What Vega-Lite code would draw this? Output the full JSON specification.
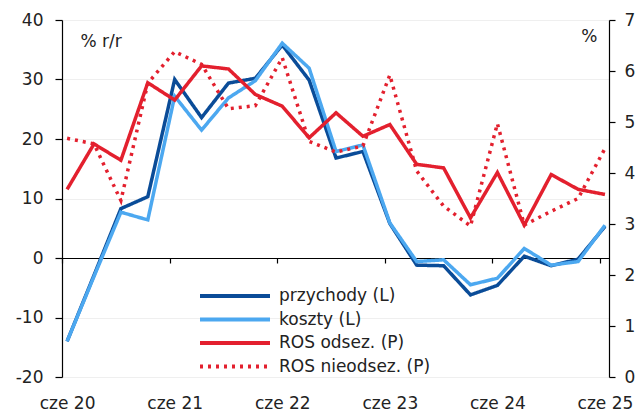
{
  "$schema": "https://vega.github.io/schema/vega-lite/v6.json",
  "width": 547,
  "height": 357,
  "autosize": {"type": "none"},
  "padding": {"left": 62, "top": 20, "right": 32, "bottom": 35},
  "background": "white",
  "config": {
    "font": "DejaVu Sans",
    "view": {"stroke": null},
    "axis": {
      "labelFont": "DejaVu Sans",
      "labelFontSize": 17,
      "labelColor": "#222222",
      "titleFont": "DejaVu Sans",
      "titleFontSize": 17,
      "titleFontWeight": "normal",
      "titleColor": "#222222",
      "domainColor": "#000000",
      "tickColor": "#000000",
      "domainWidth": 1.2,
      "tickWidth": 1.2
    },
    "legend": {
      "labelFont": "DejaVu Sans",
      "labelFontSize": 17,
      "labelColor": "#222222"
    }
  },
  "datasets": {
    "left": [
      {"q": 0, "series": "przychody (L)", "value": -14.0},
      {"q": 1, "series": "przychody (L)", "value": -2.9},
      {"q": 2, "series": "przychody (L)", "value": 8.3},
      {"q": 3, "series": "przychody (L)", "value": 10.3},
      {"q": 4, "series": "przychody (L)", "value": 30.0},
      {"q": 5, "series": "przychody (L)", "value": 23.6},
      {"q": 6, "series": "przychody (L)", "value": 29.4},
      {"q": 7, "series": "przychody (L)", "value": 30.2},
      {"q": 8, "series": "przychody (L)", "value": 35.8},
      {"q": 9, "series": "przychody (L)", "value": 29.9},
      {"q": 10, "series": "przychody (L)", "value": 16.8},
      {"q": 11, "series": "przychody (L)", "value": 17.9},
      {"q": 12, "series": "przychody (L)", "value": 5.8},
      {"q": 13, "series": "przychody (L)", "value": -1.2},
      {"q": 14, "series": "przychody (L)", "value": -1.3},
      {"q": 15, "series": "przychody (L)", "value": -6.2},
      {"q": 16, "series": "przychody (L)", "value": -4.6},
      {"q": 17, "series": "przychody (L)", "value": 0.3},
      {"q": 18, "series": "przychody (L)", "value": -1.3},
      {"q": 19, "series": "przychody (L)", "value": -0.2},
      {"q": 20, "series": "przychody (L)", "value": 5.3},
      {"q": 0, "series": "koszty (L)", "value": -14.0},
      {"q": 1, "series": "koszty (L)", "value": -3.1},
      {"q": 2, "series": "koszty (L)", "value": 7.7},
      {"q": 3, "series": "koszty (L)", "value": 6.4},
      {"q": 4, "series": "koszty (L)", "value": 27.2},
      {"q": 5, "series": "koszty (L)", "value": 21.5},
      {"q": 6, "series": "koszty (L)", "value": 26.9},
      {"q": 7, "series": "koszty (L)", "value": 29.8},
      {"q": 8, "series": "koszty (L)", "value": 36.1},
      {"q": 9, "series": "koszty (L)", "value": 31.9},
      {"q": 10, "series": "koszty (L)", "value": 17.9},
      {"q": 11, "series": "koszty (L)", "value": 19.0},
      {"q": 12, "series": "koszty (L)", "value": 5.9},
      {"q": 13, "series": "koszty (L)", "value": -0.6},
      {"q": 14, "series": "koszty (L)", "value": -0.3},
      {"q": 15, "series": "koszty (L)", "value": -4.5},
      {"q": 16, "series": "koszty (L)", "value": -3.4},
      {"q": 17, "series": "koszty (L)", "value": 1.6},
      {"q": 18, "series": "koszty (L)", "value": -1.2},
      {"q": 19, "series": "koszty (L)", "value": -0.6},
      {"q": 20, "series": "koszty (L)", "value": 5.5}
    ],
    "right": [
      {"q": 0, "series": "ROS odsez. (P)", "value": 3.68},
      {"q": 1, "series": "ROS odsez. (P)", "value": 4.57},
      {"q": 2, "series": "ROS odsez. (P)", "value": 4.25},
      {"q": 3, "series": "ROS odsez. (P)", "value": 5.77},
      {"q": 4, "series": "ROS odsez. (P)", "value": 5.43},
      {"q": 5, "series": "ROS odsez. (P)", "value": 6.10},
      {"q": 6, "series": "ROS odsez. (P)", "value": 6.04},
      {"q": 7, "series": "ROS odsez. (P)", "value": 5.54},
      {"q": 8, "series": "ROS odsez. (P)", "value": 5.31},
      {"q": 9, "series": "ROS odsez. (P)", "value": 4.69},
      {"q": 10, "series": "ROS odsez. (P)", "value": 5.18},
      {"q": 11, "series": "ROS odsez. (P)", "value": 4.72},
      {"q": 12, "series": "ROS odsez. (P)", "value": 4.95},
      {"q": 13, "series": "ROS odsez. (P)", "value": 4.17},
      {"q": 14, "series": "ROS odsez. (P)", "value": 4.10},
      {"q": 15, "series": "ROS odsez. (P)", "value": 3.12},
      {"q": 16, "series": "ROS odsez. (P)", "value": 4.01},
      {"q": 17, "series": "ROS odsez. (P)", "value": 2.98},
      {"q": 18, "series": "ROS odsez. (P)", "value": 3.97},
      {"q": 19, "series": "ROS odsez. (P)", "value": 3.68},
      {"q": 20, "series": "ROS odsez. (P)", "value": 3.58},
      {"q": 0, "series": "ROS nieodsez. (P)", "value": 4.68},
      {"q": 1, "series": "ROS nieodsez. (P)", "value": 4.57},
      {"q": 2, "series": "ROS nieodsez. (P)", "value": 3.46},
      {"q": 3, "series": "ROS nieodsez. (P)", "value": 5.76},
      {"q": 4, "series": "ROS nieodsez. (P)", "value": 6.38},
      {"q": 5, "series": "ROS nieodsez. (P)", "value": 6.13},
      {"q": 6, "series": "ROS nieodsez. (P)", "value": 5.26},
      {"q": 7, "series": "ROS nieodsez. (P)", "value": 5.32},
      {"q": 8, "series": "ROS nieodsez. (P)", "value": 6.26},
      {"q": 9, "series": "ROS nieodsez. (P)", "value": 4.62},
      {"q": 10, "series": "ROS nieodsez. (P)", "value": 4.41},
      {"q": 11, "series": "ROS nieodsez. (P)", "value": 4.53},
      {"q": 12, "series": "ROS nieodsez. (P)", "value": 5.92},
      {"q": 13, "series": "ROS nieodsez. (P)", "value": 4.04},
      {"q": 14, "series": "ROS nieodsez. (P)", "value": 3.35},
      {"q": 15, "series": "ROS nieodsez. (P)", "value": 2.96},
      {"q": 16, "series": "ROS nieodsez. (P)", "value": 4.97},
      {"q": 17, "series": "ROS nieodsez. (P)", "value": 2.98},
      {"q": 18, "series": "ROS nieodsez. (P)", "value": 3.25},
      {"q": 19, "series": "ROS nieodsez. (P)", "value": 3.50},
      {"q": 20, "series": "ROS nieodsez. (P)", "value": 4.48}
    ]
  },
  "layer": [
    {
      "data": {"name": "left"},
      "mark": {"type": "line", "strokeWidth": 3.5, "strokeJoin": "miter"},
      "encoding": {
        "x": {
          "field": "q",
          "type": "quantitative",
          "scale": {"domain": [-0.19, 20.15], "nice": false, "zero": false},
          "axis": {
            "orient": "bottom",
            "offset": -119,
            "values": [0, 4, 8, 12, 16, 20],
            "labels": false,
            "ticks": true,
            "tickSize": 5,
            "tickOffset": -5,
            "domain": true,
            "grid": false,
            "title": null
          }
        },
        "y": {
          "field": "value",
          "type": "quantitative",
          "scale": {"domain": [-20, 40], "nice": false, "zero": false},
          "axis": {
            "orient": "left",
            "values": [-20, -10, 0, 10, 20, 30, 40],
            "labelExpr": "toString(datum.value)",
            "tickSize": 7,
            "labelPadding": 12,
            "grid": true,
            "gridColor": "#efefef",
            "gridWidth": 1,
            "title": "% r/r",
            "titleAngle": 0,
            "titleAlign": "left",
            "titleBaseline": "middle",
            "titleX": 18,
            "titleY": 21
          }
        },
        "color": {
          "field": "series",
          "type": "nominal",
          "scale": {
            "domain": ["przychody (L)", "koszty (L)", "ROS odsez. (P)", "ROS nieodsez. (P)"],
            "range": ["#0a4c98", "#4ca8f0", "#e3202e", "#e3202e"]
          },
          "legend": {
            "title": null,
            "orient": "none",
            "legendX": 136,
            "legendY": 267,
            "padding": 0,
            "symbolType": "stroke",
            "symbolSize": 4900,
            "symbolStrokeWidth": 4,
            "clipHeight": 18,
            "rowPadding": 5.5,
            "labelOffset": 7
          }
        },
        "strokeDash": {
          "field": "series",
          "type": "nominal",
          "scale": {
            "domain": ["przychody (L)", "koszty (L)", "ROS odsez. (P)", "ROS nieodsez. (P)"],
            "range": [[1, 0], [1, 0], [1, 0], [3, 5]]
          },
          "legend": {
            "title": null,
            "orient": "none",
            "legendX": 136,
            "legendY": 267,
            "padding": 0,
            "symbolType": "stroke",
            "symbolSize": 4900,
            "symbolStrokeWidth": 4,
            "clipHeight": 18,
            "rowPadding": 5.5,
            "labelOffset": 7
          }
        }
      }
    },
    {
      "data": {"name": "right"},
      "mark": {"type": "line", "strokeWidth": 3.5, "strokeJoin": "miter"},
      "encoding": {
        "x": {
          "field": "q",
          "type": "quantitative",
          "scale": {"domain": [-0.19, 20.15], "nice": false, "zero": false},
          "axis": {
            "orient": "bottom",
            "values": [0, 4, 8, 12, 16, 20],
            "labelExpr": "'cze ' + (20 + datum.value / 4)",
            "labels": true,
            "ticks": false,
            "tickSize": 0,
            "domain": false,
            "grid": false,
            "labelPadding": 18,
            "labelBaseline": "top",
            "title": null
          }
        },
        "y": {
          "field": "value",
          "type": "quantitative",
          "scale": {"domain": [0, 7], "nice": false, "zero": false},
          "axis": {
            "orient": "right",
            "values": [0, 1, 2, 3, 4, 5, 6, 7],
            "tickSize": 6,
            "labelPadding": 9,
            "grid": false,
            "title": "%",
            "titleAngle": 0,
            "titleAlign": "right",
            "titleBaseline": "middle",
            "titleX": -12,
            "titleY": 16
          }
        },
        "color": {"field": "series", "type": "nominal"},
        "strokeDash": {"field": "series", "type": "nominal"}
      }
    }
  ],
  "resolve": {"scale": {"y": "independent"}, "axis": {"x": "independent"}}
}
